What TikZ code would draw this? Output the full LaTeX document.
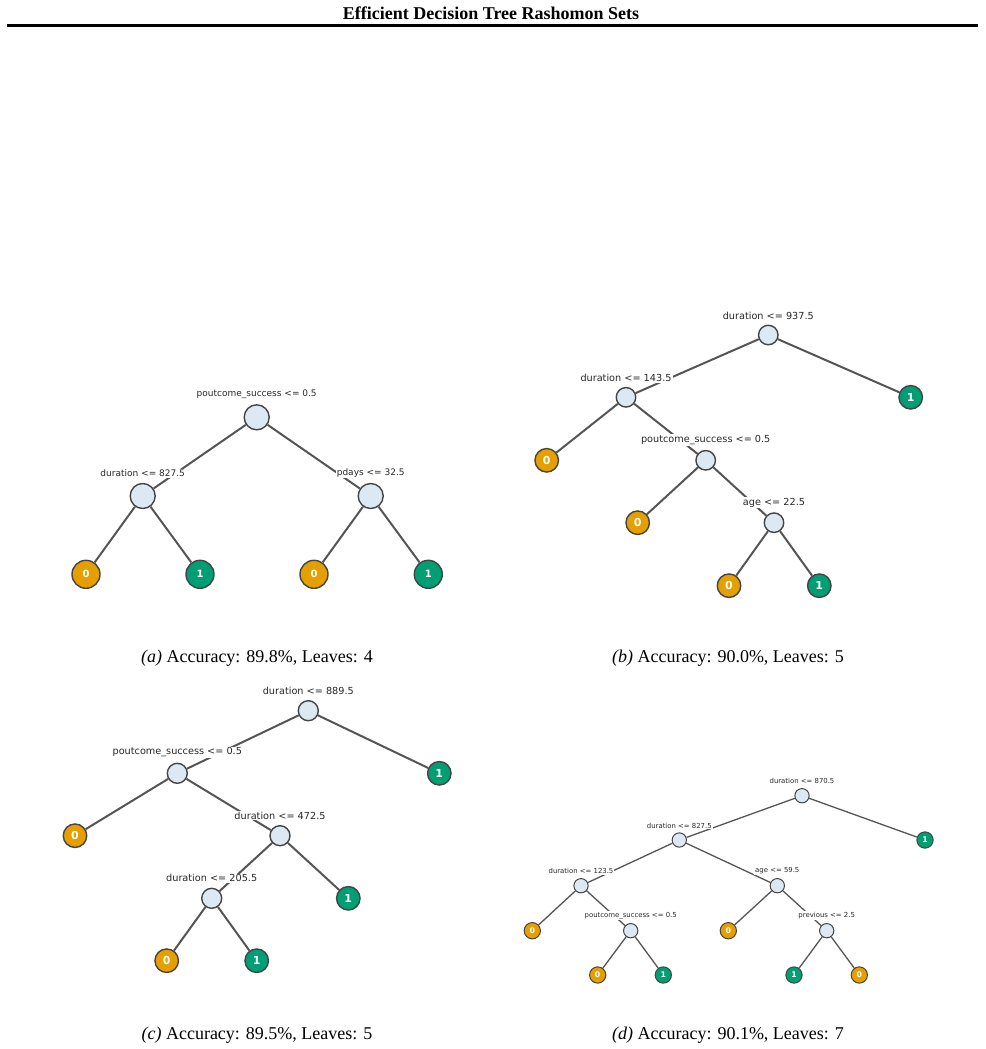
\documentclass[tikz,border=0pt]{standalone}
\usepackage{fontspec}
\setmainfont{Liberation Serif}
\newfontfamily\lblfont{DejaVu Sans}
\usetikzlibrary{backgrounds}
\definecolor{splitblue}{RGB}{220,233,243}
\definecolor{leafno}{RGB}{230,159,0}
\definecolor{leafyes}{RGB}{0,158,115}
\definecolor{nodegray}{RGB}{68,68,68}
\definecolor{branchgray}{RGB}{85,85,85}
\definecolor{condgray}{RGB}{40,40,40}
\tikzset{
  every split/.style={}, every leaf/.style={}, every cond/.style={}, every branch/.style={},
  split/.style={circle,draw=nodegray,fill=splitblue,inner sep=0pt,every split},
  leaf/.style={circle,draw=nodegray,text=white,inner sep=0pt,every leaf},
  leafzero/.style={leaf,fill=leafno},
  leafone/.style={leaf,fill=leafyes},
  cond/.style={text=condgray,fill=white,inner sep=1pt,every cond},
  branch/.style={draw=branchgray,every branch},
  caption/.style={font=\fontsize{18}{20}\selectfont,anchor=base},
}

\begin{document}
\begin{tikzpicture}[x=1pt,y=-1pt]
  \useasboundingbox (0,0) rectangle (985,1049);
  \node[font=\bfseries\fontsize{18}{20}\selectfont,anchor=base] (title) at (491,20) {Efficient Decision Tree Rashomon Sets};
  \draw[line width=2.2pt] (7,25.5) -- (978,25.5);

  % (a)
  \begin{scope}[every split/.style={minimum size=25pt,line width=1.4pt},
      every leaf/.style={minimum size=28pt,line width=1.4pt,font=\lblfont\bfseries\fontsize{10}{10}\selectfont},
      every cond/.style={font=\lblfont\fontsize{9}{11}\selectfont,label distance=4.5pt},
      every branch/.style={line width=2pt}]
    \node[split,label={[cond]above:poutcome\_success <= 0.5}] (a0) at (256.7,417.3) {};
    \node[split,label={[cond]above:duration <= 827.5}] (a1) at (142.7,496) {};
    \node[split,label={[cond]above:pdays <= 32.5}] (a2) at (370.7,496) {};
    \node[leafzero] (a3) at (86,574.3) {0};
    \node[leafone] (a4) at (200,574.3) {1};
    \node[leafzero] (a5) at (314,574.3) {0};
    \node[leafone] (a6) at (428.3,574.3) {1};
    \begin{scope}[on background layer]
      \draw[branch] (a0) -- (a1) (a0) -- (a2) (a1) -- (a3) (a1) -- (a4) (a2) -- (a5) (a2) -- (a6);
    \end{scope}
  \end{scope}
  \node[caption] (capa) at (257,662) {\textit{(a)} Accuracy: 89.8\%, Leaves: 4};

  % (b)
  \begin{scope}[every split/.style={minimum size=19.5pt,line width=1.4pt},
      every leaf/.style={minimum size=23.5pt,line width=1.4pt,font=\lblfont\bfseries\fontsize{11}{11}\selectfont},
      every cond/.style={font=\lblfont\fontsize{9.7}{11}\selectfont,label distance=4pt},
      every branch/.style={line width=2pt}]
    \node[split,label={[cond]above:duration <= 937.5}] (b0) at (768.3,335) {};
    \node[split,label={[cond]above:duration <= 143.5}] (b1) at (626,397.3) {};
    \node[leafone] (b2) at (910.7,397.3) {1};
    \node[leafzero] (b3) at (546.7,460.3) {0};
    \node[split,label={[cond]above:poutcome\_success <= 0.5}] (b4) at (705.7,460.3) {};
    \node[leafzero] (b5) at (637.7,522.7) {0};
    \node[split,label={[cond]above:age <= 22.5}] (b6) at (774,522.7) {};
    \node[leafzero] (b7) at (729,585.7) {0};
    \node[leafone] (b8) at (819.3,585.7) {1};
    \begin{scope}[on background layer]
      \draw[branch] (b0) -- (b1) (b0) -- (b2) (b1) -- (b3) (b1) -- (b4) (b4) -- (b5) (b4) -- (b6) (b6) -- (b7) (b6) -- (b8);
    \end{scope}
  \end{scope}
  \node[caption] (capb) at (728,662) {\textit{(b)} Accuracy: 90.0\%, Leaves: 5};

  % (c)
  \begin{scope}[every split/.style={minimum size=20pt,line width=1.4pt},
      every leaf/.style={minimum size=23.5pt,line width=1.4pt,font=\lblfont\bfseries\fontsize{11}{11}\selectfont},
      every cond/.style={font=\lblfont\fontsize{9.7}{11}\selectfont,label distance=4.4pt},
      every branch/.style={line width=2pt}]
    \node[split,label={[cond]above:duration <= 889.5}] (c0) at (308.3,710.7) {};
    \node[split,label={[cond]above:poutcome\_success <= 0.5}] (c1) at (177.3,773.3) {};
    \node[leafone] (c2) at (439.3,773.3) {1};
    \node[leafzero] (c3) at (75,835.7) {0};
    \node[split,label={[cond]above:duration <= 472.5}] (c4) at (280,835.7) {};
    \node[split,label={[cond]above:duration <= 205.5}] (c5) at (211.7,898.3) {};
    \node[leafone] (c6) at (348.3,898.3) {1};
    \node[leafzero] (c7) at (166.7,960.7) {0};
    \node[leafone] (c8) at (256.7,960.7) {1};
    \begin{scope}[on background layer]
      \draw[branch] (c0) -- (c1) (c0) -- (c2) (c1) -- (c3) (c1) -- (c4) (c4) -- (c5) (c4) -- (c6) (c5) -- (c7) (c5) -- (c8);
    \end{scope}
  \end{scope}
  \node[caption] (capc) at (257,1039) {\textit{(c)} Accuracy: 89.5\%, Leaves: 5};

  % (d)
  \begin{scope}[every split/.style={minimum size=14.3pt,line width=1pt},
      every leaf/.style={minimum size=16.3pt,line width=1pt,font=\lblfont\bfseries\fontsize{7.8}{8}\selectfont},
      every cond/.style={font=\lblfont\fontsize{6.9}{8}\selectfont,label distance=2.8pt},
      every branch/.style={line width=1.3pt}]
    \node[split,label={[cond]above:duration <= 870.5}] (d0) at (802,795.7) {};
    \node[split,label={[cond]above:duration <= 827.5}] (d1) at (679.3,840) {};
    \node[leafone] (d2) at (925,840) {1};
    \node[split,label={[cond]above:duration <= 123.5}] (d3) at (581,885.7) {};
    \node[split,label={[cond]above:age <= 59.5}] (d4) at (777.3,885.7) {};
    \node[leafzero] (d5) at (532.3,930.7) {0};
    \node[split,label={[cond]above:poutcome\_success <= 0.5}] (d6) at (630.7,930.7) {};
    \node[leafzero] (d7) at (728.3,930.7) {0};
    \node[split,label={[cond]above:previous <= 2.5}] (d8) at (826.7,930.7) {};
    \node[leafzero] (d9) at (597.7,975) {0};
    \node[leafone] (d10) at (663.3,975) {1};
    \node[leafone] (d11) at (794,975) {1};
    \node[leafzero] (d12) at (859.3,975) {0};
    \begin{scope}[on background layer]
      \draw[branch] (d0) -- (d1) (d0) -- (d2) (d1) -- (d3) (d1) -- (d4) (d3) -- (d5) (d3) -- (d6)
        (d4) -- (d7) (d4) -- (d8) (d6) -- (d9) (d6) -- (d10) (d8) -- (d11) (d8) -- (d12);
    \end{scope}
  \end{scope}
  \node[caption] (capd) at (728,1039) {\textit{(d)} Accuracy: 90.1\%, Leaves: 7};
\end{tikzpicture}
\end{document}
